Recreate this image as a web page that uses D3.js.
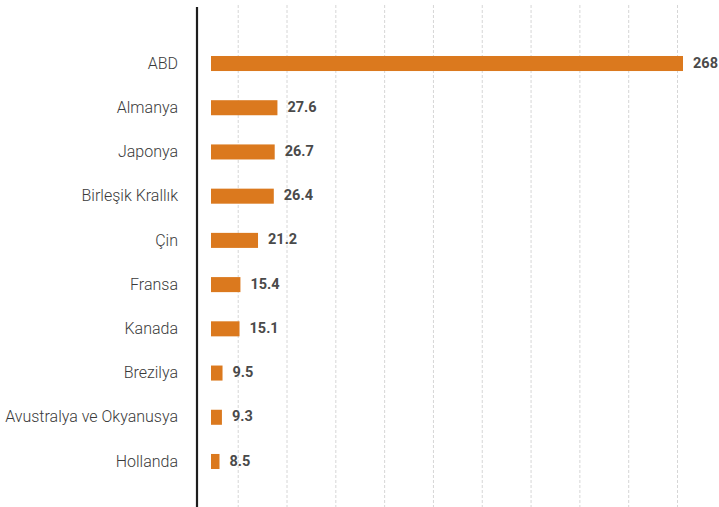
<!DOCTYPE html>
<html>
<head>
<meta charset="utf-8">
<script src="https://cdn.jsdelivr.net/npm/d3@7"></script>
<style>
  body { margin: 0; background: #fff; }
  .cat { font-family: Roboto, sans-serif; font-size: 16px; font-weight: 300; fill: #3a3a3a; }
  .val { font-family: Roboto, sans-serif; font-size: 14.5px; font-weight: 700; fill: #4a4a4a; }
</style>
</head>
<body>
<div id="chart"></div>
<script>
// Data
const countries = ["ABD", "Almanya", "Japonya", "Birleşik Krallık", "Çin", "Fransa",
  "Kanada", "Brezilya", "Avustralya ve Okyanusya", "Hollanda"];
const values = [268, 27.6, 26.7, 26.4, 21.2, 15.4, 15.1, 9.5, 9.3, 8.5];
const valueLabels = ["268", "27.6", "26.7", "26.4", "21.2", "15.4", "15.1", "9.5", "9.3", "8.5"];
const gridSteps = [1, 2, 3, 4, 5, 6, 7, 8, 9, 10];

const width = 719, height = 507;

const svg = d3.select("#chart").append("svg")
  .attr("width", width)
  .attr("height", height);

// Scales
// bars start a bit right of the axis; the big ABD value is clamped at the right edge
const x = d3.scaleLinear()
  .domain([5.7, 161.3])
  .range([211, 683])
  .clamp(true);

const y = d3.scaleBand()
  .domain(countries)
  .range([41.4, 483.6])
  .paddingInner(0.66)
  .paddingOuter(0.33);

// grid is just evenly spaced dashed guides
const gx = d3.scaleLinear().domain([0, 10]).range([188.9, 677]);

svg.append("g")
  .attr("class", "grid")
  .selectAll("line")
  .data(gridSteps)
  .join("line")
  .attr("x1", (d) => gx(d) + 0.5)
  .attr("x2", (d) => gx(d) + 0.5)
  .attr("y1", 5)
  .attr("y2", height)
  .attr("stroke", "#d6d6d6")
  .attr("stroke-width", 1)
  .attr("stroke-dasharray", "3,2");

// Bars
svg.append("g")
  .selectAll("rect")
  .data(values)
  .join("rect")
  .attr("x", x.range()[0])
  .attr("y", (d, i) => y(countries[i]))
  .attr("width", (d) => x(d) - x.range()[0])
  .attr("height", y.bandwidth())
  .attr("fill", "#db791e");

// Value labels
svg.append("g")
  .selectAll("text")
  .data(values)
  .join("text")
  .attr("class", "val")
  .attr("x", (d) => x(d) + 10)
  .attr("y", (d, i) => y(countries[i]) + y.bandwidth() / 2 - 1)
  .attr("dy", "0.35em")
  .text((d, i) => valueLabels[i]);

// Axis line with category labels
const axis = d3.axisLeft(y).tickSize(0).tickPadding(19);
const ax = svg.append("g")
  .attr("transform", "translate(197,0)")
  .call(axis);

ax.select(".domain").remove();
ax.selectAll("text")
  .attr("class", "cat")
  .attr("font-family", null)
  .attr("font-size", null)
  .attr("fill", null);

svg.append("line")
  .attr("x1", 197)
  .attr("x2", 197)
  .attr("y1", 7)
  .attr("y2", height)
  .attr("stroke", "#1e1e1e")
  .attr("stroke-width", 2.2);
</script>
</body>
</html>
